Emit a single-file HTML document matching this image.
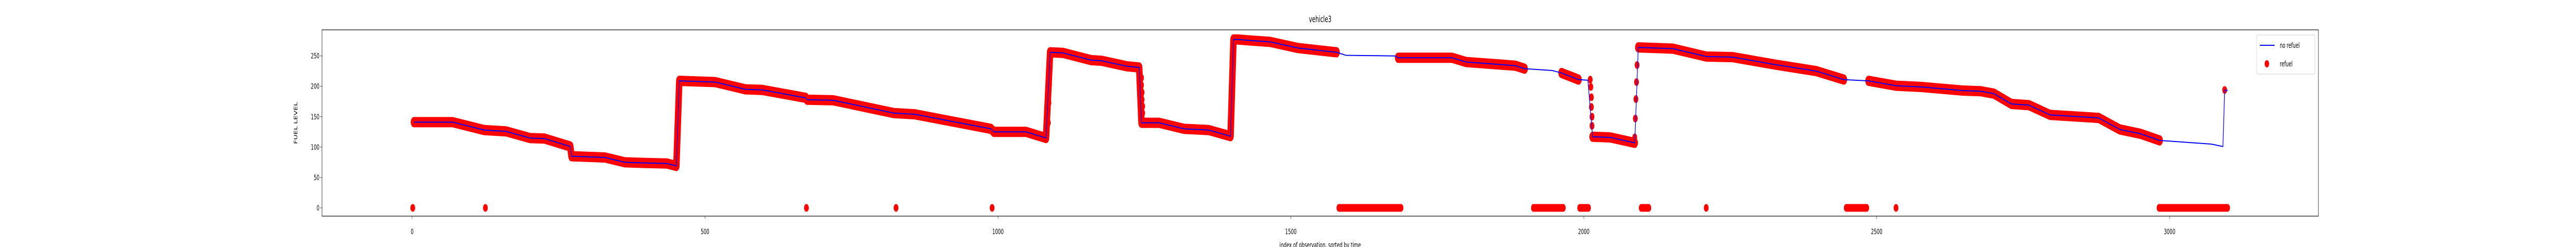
<!DOCTYPE html>
<html><head><meta charset="utf-8">
<style>
html,body{margin:0;padding:0;background:#fff;overflow:hidden;width:100%;height:100%;}
svg{display:block;width:100vw;height:100vh;font-family:"DejaVu Sans","Liberation Sans",sans-serif;}
</style></head>
<body>
<svg id="chart" viewBox="0 0 8000 480" preserveAspectRatio="none" xmlns="http://www.w3.org/2000/svg">
<rect x="0" y="0" width="8000" height="480" fill="#fff"/>
<text x="4100" y="43" font-size="16.7" text-anchor="middle" fill="#000">vehicle3</text>
<text x="4100" y="481" font-size="13.9" text-anchor="middle" fill="#000">index of observation, sorted by time</text>
<text transform="translate(923,239) rotate(-90)" font-size="13.9" text-anchor="middle" fill="#000">FUEL LEVEL</text>
<g id="marks"></g>
<g id="axes"></g>
<g>
<rect x="7009" y="68" width="180" height="76" rx="3" fill="#fff" fill-opacity="0.8" stroke="#ccc" stroke-width="1"/>
<line x1="7018" y1="88" x2="7064" y2="88" stroke="#0000ff" stroke-width="2"/>
<text x="7080" y="93" font-size="13.9">no refuel</text>
<ellipse cx="7040" cy="124" rx="7" ry="7" fill="#ff0000"/>
<text x="7080" y="129" font-size="13.9">refuel</text>
</g>
</svg>
<script>
// line keypoints (index, fuel level)
const lineIdx = [3,69,123,160,201,226,270,272,329,363,396,435,451,456,517,569,598,672,674,719,822,858,988,993,1048,1082,1089,1111,1159,1177,1220,1241,1245,1275,1318,1360,1397,1402,1409,1465,1512,1578,1594,1678,1683,1775,1799,1883,1899,1946,1962,1991,2007,2015,2045,2087,2093,2152,2209,2254,2325,2397,2444,2486,2533,2575,2647,2677,2700,2730,2760,2796,2879,2915,2950,2983,3071,3091,3094,3099];
const lineVal = [141,141,128,126,115,114,101,85,83,75,74,73,69,209,207,195,194,181,178,177,156,154,130,125,125,115,256,255,243,242,233,231,140,140,130,128,118,277,277,273,263,256,251,250,247,247,240,234,229,226,222,211,210,117,116,107,264,262,249,248,236,225,211,209,201,199,193,192,188,171,169,153,148,129,122,111,105,101,194,193];
// index ranges where refuel markers overlay the line
const bandStart = [3,1683,1962,2015,2093,2486];
const bandEnd   = [1578,1899,1991,2087,2444,2983];
// sparse refuel markers on vertical transitions
const jumpIdx = [452,453,455,1086,1087,1088,1089,1245,1245,1246,1246,1247,1247,1398,1399,1400,1401,1402,2011,2012,2013,2013,2014,2014,2087,2088,2089,2090,2091,2092,3094];
const jumpVal = [110,149,187,140,173,203,235,214,202,190,178,167,156,129,161,193,225,257,211,199,182,166,150,135,116,147,179,207,235,263,194];
// refuel events recorded at zero level: ranges of index
const zeroStart = [1,125,673,826,990,1582,1914,1993,2098,2209,2448,2533,2982];
const zeroEnd   = [1,125,673,826,990,1688,1965,2008,2111,2209,2483,2533,3099];
const xTicks = [0,500,1000,1500,2000,2500,3000];
const yTicks = [0,50,100,150,200,250];

const L=1000,R=7200,T=58,B=420;
const xs = i => 1280 + i*1.8193;
const ys = v => 404 - v*1.1813;
const NS="http://www.w3.org/2000/svg";
const marks=document.getElementById('marks'), axes=document.getElementById('axes');
function mk(tag,attrs,parent){const e=document.createElementNS(NS,tag);for(const k in attrs)e.setAttribute(k,attrs[k]);parent.appendChild(e);return e;}
function segPath(a,b){
  let pts=[];
  for(let k=0;k<lineIdx.length;k++){ if(lineIdx[k]>=a && lineIdx[k]<=b) pts.push([lineIdx[k],lineVal[k]]); }
  return pts.map((p,j)=>(j?'L':'M')+xs(p[0]).toFixed(1)+' '+ys(p[1]).toFixed(1)).join(' ');
}
for(let s=0;s<bandStart.length;s++){
  const p=mk('path',{d:segPath(bandStart[s],bandEnd[s]),fill:'none',stroke:'#ff0000','stroke-width':20,'stroke-linecap':'round','stroke-linejoin':'round'},marks);
  
  
}
for(let k=0;k<jumpIdx.length;k++){
  const c=mk('circle',{cx:xs(jumpIdx[k]),cy:ys(jumpVal[k]),r:7.5,fill:'#ff0000'},marks);
  
  
}
for(let k=0;k<zeroStart.length;k++){
  const l=mk('line',{x1:xs(zeroStart[k]),y1:ys(0),x2:xs(zeroEnd[k])+0.01,y2:ys(0),stroke:'#ff0000','stroke-width':15,'stroke-linecap':'round'},marks);
  
  
}
const ln=mk('path',{d:segPath(0,99999),fill:'none',stroke:'#0000ff','stroke-width':2,'stroke-linejoin':'round'},marks);


const fr=mk('rect',{x:L,y:T,width:R-L,height:B-T,fill:'none',stroke:'#1a1a1a','stroke-width':1.3},axes);


xTicks.forEach(t=>{
  const x=xs(t);
  const tl=mk('line',{x1:x,y1:B,x2:x,y2:B+5,stroke:'#1a1a1a','stroke-width':1},axes);
  
  
  const tx=mk('text',{x:x,y:455,'font-size':13.9,'text-anchor':'middle'},axes);
  tx.textContent=t;
  
  
});
yTicks.forEach(t=>{
  const y=ys(t);
  const tl=mk('line',{x1:L-5,y1:y,x2:L,y2:y,stroke:'#1a1a1a','stroke-width':1},axes);
  
  
  const tx=mk('text',{x:L-8,y:y+5,'font-size':13.9,'text-anchor':'end'},axes);
  tx.textContent=t;
  
  
});
</script>
</body></html>
